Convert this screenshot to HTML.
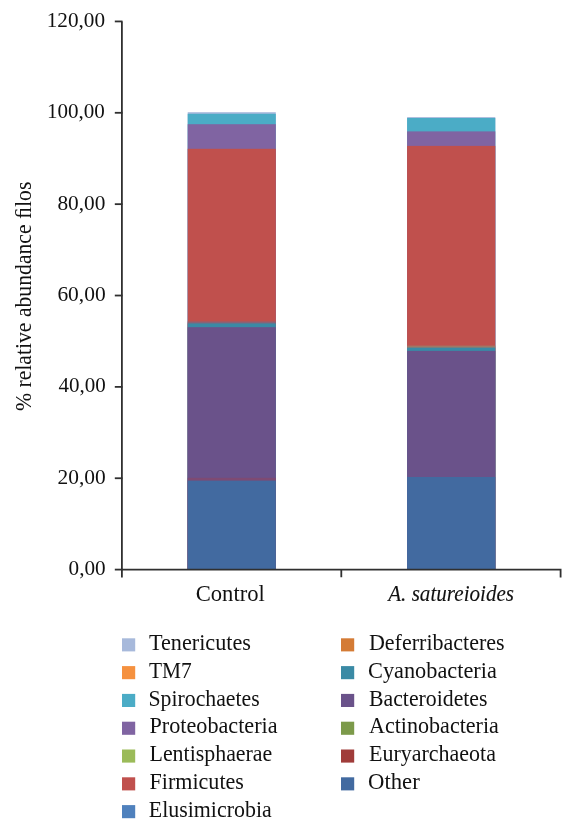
<!DOCTYPE html>
<html><head><meta charset="utf-8"><style>
html,body{margin:0;padding:0;background:#fff;width:575px;height:832px;overflow:hidden}
svg{display:block;will-change:transform}
text{font-family:'Liberation Serif',serif;fill:#111;stroke:#111;stroke-width:0px}
</style></head><body>
<svg width="575" height="832" viewBox="0 0 575 832">
<rect width="575" height="832" fill="#fff"/>
<rect x="187.7" y="112.20" width="88.1" height="457.40" fill="#A7B9DB"/>
<rect x="187.7" y="113.80" width="88.1" height="455.80" fill="#4BACC6"/>
<rect x="187.7" y="124.20" width="88.1" height="445.40" fill="#8064A2"/>
<rect x="187.7" y="148.80" width="88.1" height="420.80" fill="#C0504D"/>
<rect x="187.7" y="321.50" width="88.1" height="248.10" fill="#8A6276"/>
<rect x="187.7" y="323.40" width="88.1" height="246.20" fill="#3A8AA5"/>
<rect x="187.7" y="327.20" width="88.1" height="242.40" fill="#6A528A"/>
<rect x="187.7" y="477.80" width="88.1" height="91.80" fill="#7E4A73"/>
<rect x="187.7" y="480.60" width="88.1" height="89.00" fill="#426AA0"/>
<rect x="407.1" y="117.10" width="88.2" height="452.50" fill="#A7B9DB"/>
<rect x="407.1" y="118.00" width="88.2" height="451.60" fill="#4BACC6"/>
<rect x="407.1" y="131.40" width="88.2" height="438.20" fill="#8064A2"/>
<rect x="407.1" y="145.90" width="88.2" height="423.70" fill="#C0504D"/>
<rect x="407.1" y="345.60" width="88.2" height="224.00" fill="#A07866"/>
<rect x="407.1" y="347.60" width="88.2" height="222.00" fill="#3A8AA5"/>
<rect x="407.1" y="350.90" width="88.2" height="218.70" fill="#6A528A"/>
<rect x="407.1" y="477.00" width="88.2" height="92.60" fill="#426AA0"/>
<path d="M121.9 21.4 V577.5 M121 569.6 H560.6 V577.5 M341.3 569.6 V577.3" stroke="#303030" stroke-width="1.8" fill="none"/>
<line x1="114.8" x2="122.5" y1="569.60" y2="569.60" stroke="#303030" stroke-width="1.8"/>
<line x1="114.8" x2="122.5" y1="478.24" y2="478.24" stroke="#303030" stroke-width="1.8"/>
<line x1="114.8" x2="122.5" y1="386.88" y2="386.88" stroke="#303030" stroke-width="1.8"/>
<line x1="114.8" x2="122.5" y1="295.52" y2="295.52" stroke="#303030" stroke-width="1.8"/>
<line x1="114.8" x2="122.5" y1="204.16" y2="204.16" stroke="#303030" stroke-width="1.8"/>
<line x1="114.8" x2="122.5" y1="112.80" y2="112.80" stroke="#303030" stroke-width="1.8"/>
<line x1="114.8" x2="122.5" y1="21.44" y2="21.44" stroke="#303030" stroke-width="1.8"/>
<rect x="122" y="638.30" width="13.2" height="13.1" fill="#A7B9DB"/>
<rect x="122" y="666.10" width="13.2" height="13.1" fill="#F5913F"/>
<rect x="122" y="693.90" width="13.2" height="13.1" fill="#4BACC6"/>
<rect x="122" y="721.70" width="13.2" height="13.1" fill="#8064A2"/>
<rect x="122" y="749.50" width="13.2" height="13.1" fill="#9BBB59"/>
<rect x="122" y="777.30" width="13.2" height="13.1" fill="#C0504D"/>
<rect x="122" y="805.10" width="13.2" height="13.1" fill="#4F81BD"/>
<rect x="341" y="638.30" width="13.2" height="13.1" fill="#D47B35"/>
<rect x="341" y="666.10" width="13.2" height="13.1" fill="#3A8AA5"/>
<rect x="341" y="693.90" width="13.2" height="13.1" fill="#6A528A"/>
<rect x="341" y="721.70" width="13.2" height="13.1" fill="#7C9A4A"/>
<rect x="341" y="749.50" width="13.2" height="13.1" fill="#A03C3A"/>
<rect x="341" y="777.30" width="13.2" height="13.1" fill="#426AA0"/>
<text x="105.0" y="27.04" text-anchor="end" font-size="21.0" textLength="58.30" lengthAdjust="spacingAndGlyphs">120,00</text>
<text x="104.80000000000003" y="118.40" text-anchor="end" font-size="21.0" textLength="57.90" lengthAdjust="spacingAndGlyphs">100,00</text>
<text x="105.39999999999995" y="209.76" text-anchor="end" font-size="21.0" textLength="48.00" lengthAdjust="spacingAndGlyphs">80,00</text>
<text x="105.69999999999997" y="301.12" text-anchor="end" font-size="21.0" textLength="48.30" lengthAdjust="spacingAndGlyphs">60,00</text>
<text x="105.69999999999997" y="392.48" text-anchor="end" font-size="21.0" textLength="47.30" lengthAdjust="spacingAndGlyphs">40,00</text>
<text x="105.69999999999997" y="483.84" text-anchor="end" font-size="21.0" textLength="48.20" lengthAdjust="spacingAndGlyphs">20,00</text>
<text x="105.69999999999997" y="575.20" text-anchor="end" font-size="21.0" textLength="37.10" lengthAdjust="spacingAndGlyphs">0,00</text>
<text x="195.70" y="600.90" font-size="22.8" textLength="69.15" lengthAdjust="spacingAndGlyphs">Control</text>
<text x="388.20" y="600.90" font-size="22.3" textLength="125.90" lengthAdjust="spacingAndGlyphs" font-style="italic" style="stroke-width:0.1px">A. satureioides</text>
<text transform="translate(30.60 411.00) rotate(-90)" x="0" y="0" font-size="22.3" textLength="229.40" lengthAdjust="spacingAndGlyphs">% relative abundance ﬁlos</text>
<text x="148.90" y="650.05" font-size="22.3" textLength="102.10" lengthAdjust="spacingAndGlyphs">Tenericutes</text>
<text x="148.90" y="677.85" font-size="22.3" textLength="42.80" lengthAdjust="spacingAndGlyphs">TM7</text>
<text x="148.50" y="705.65" font-size="22.3" textLength="111.20" lengthAdjust="spacingAndGlyphs">Spirochaetes</text>
<text x="149.50" y="733.45" font-size="22.3" textLength="128.10" lengthAdjust="spacingAndGlyphs">Proteobacteria</text>
<text x="149.50" y="761.25" font-size="22.3" textLength="122.80" lengthAdjust="spacingAndGlyphs">Lentisphaerae</text>
<text x="149.50" y="789.05" font-size="22.3" textLength="94.40" lengthAdjust="spacingAndGlyphs">Firmicutes</text>
<text x="148.80" y="816.85" font-size="22.3" textLength="122.90" lengthAdjust="spacingAndGlyphs">Elusimicrobia</text>
<text x="368.90" y="650.05" font-size="22.3" textLength="135.80" lengthAdjust="spacingAndGlyphs">Deferribacteres</text>
<text x="368.00" y="677.85" font-size="22.3" textLength="128.80" lengthAdjust="spacingAndGlyphs">Cyanobacteria</text>
<text x="369.00" y="705.65" font-size="22.3" textLength="118.50" lengthAdjust="spacingAndGlyphs">Bacteroidetes</text>
<text x="369.00" y="733.45" font-size="22.3" textLength="129.90" lengthAdjust="spacingAndGlyphs">Actinobacteria</text>
<text x="369.00" y="761.25" font-size="22.3" textLength="127.00" lengthAdjust="spacingAndGlyphs">Euryarchaeota</text>
<text x="368.00" y="789.05" font-size="22.3" textLength="51.70" lengthAdjust="spacingAndGlyphs">Other</text>
</svg></body></html>
